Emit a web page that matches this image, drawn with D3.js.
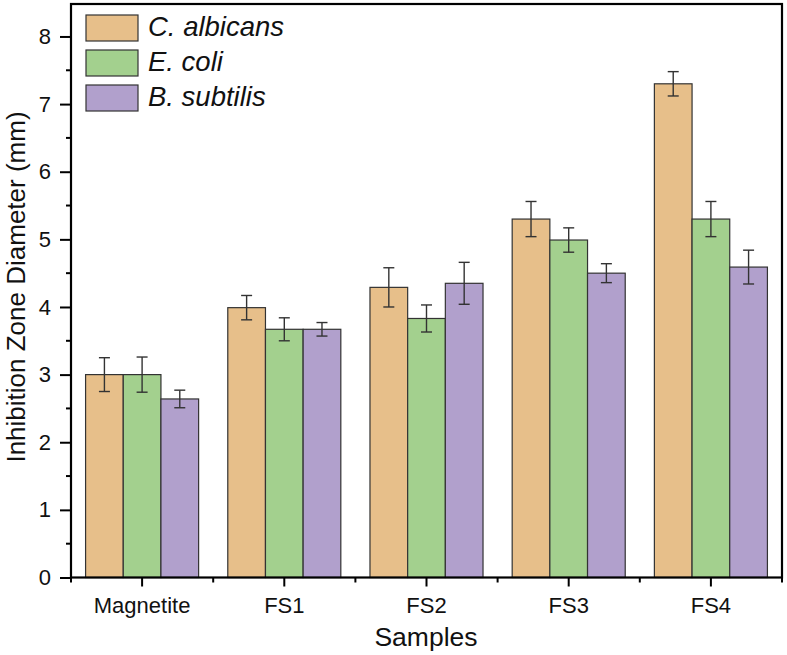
<!DOCTYPE html>
<html><head><meta charset="utf-8">
<script src="https://cdn.jsdelivr.net/npm/d3@7"></script>
<style>body{margin:0;background:#fff}svg{display:block}text{font-family:"Liberation Sans",Arial,sans-serif;fill:#111}</style>
</head><body>
<script>
const categories = ["Magnetite","FS1","FS2","FS3","FS4"];
const seriesNames = ["C. albicans","E. coli","B. subtilis"];
const albicans = [3.0, 3.99, 4.29, 5.30, 7.30];
const albicansErr = [0.25, 0.18, 0.29, 0.26, 0.18];
const ecoli = [3.0, 3.67, 3.83, 4.99, 5.30];
const ecoliErr = [0.26, 0.17, 0.20, 0.18, 0.26];
const subtilis = [2.64, 3.67, 4.35, 4.50, 4.59];
const subtilisErr = [0.13, 0.10, 0.31, 0.14, 0.25];
const colors = ["#E7BF8A","#A3D08E","#B1A0CC"];
const yTicks = [0,1,2,3,4,5,6,7,8];

const W=787,H=655;
const m={l:71,r:5,t:4,b:77.5};
const svg=d3.select("body").append("svg").attr("width",W).attr("height",H);
const x=d3.scaleBand().domain(categories).range([m.l,W-m.r]).paddingInner(0).paddingOuter(0);
const inner=d3.scaleBand().domain(seriesNames).range([0,x.bandwidth()]).paddingOuter(0.387).paddingInner(0);
const y=d3.scaleLinear().domain([0,8.48]).range([H-m.b,m.t]);

const vals=[albicans,ecoli,subtilis], errs=[albicansErr,ecoliErr,subtilisErr];
const data=[];
categories.forEach((c,i)=>seriesNames.forEach((s,j)=>data.push({c,s,j,v:vals[j][i],e:errs[j][i]})));

svg.append("g").selectAll("rect").data(data).join("rect")
 .attr("x",d=>x(d.c)+inner(d.s)).attr("width",inner.bandwidth())
 .attr("y",d=>y(d.v)).attr("height",d=>y(0)-y(d.v))
 .attr("fill",d=>colors[d.j]).attr("stroke","#333").attr("stroke-width",1.2);

const eg=svg.append("g").attr("stroke","#333").attr("stroke-width",1.4);
data.forEach(d=>{
  const cx=x(d.c)+inner(d.s)+inner.bandwidth()/2;
  eg.append("line").attr("x1",cx).attr("x2",cx).attr("y1",y(d.v+d.e)).attr("y2",y(d.v-d.e));
  [d.v+d.e,d.v-d.e].forEach(v=>eg.append("line").attr("x1",cx-5.5).attr("x2",cx+5.5).attr("y1",y(v)).attr("y2",y(v)));
});

// frame
svg.append("rect").attr("x",m.l).attr("y",m.t).attr("width",W-m.r-m.l).attr("height",H-m.b-m.t)
 .attr("fill","none").attr("stroke","#000").attr("stroke-width",2.2);

// y axis
const ya=svg.append("g").attr("transform",`translate(${m.l},0)`)
 .call(d3.axisLeft(y).tickValues(yTicks).tickSize(11).tickPadding(9).tickFormat(d3.format("d")));
ya.select(".domain").remove();
ya.selectAll(".tick line").attr("stroke","#000").attr("stroke-width",2);
ya.selectAll("text").attr("font-size",22).style("fill","#111");
const yMinor=d3.range(0.5,8.5,1);
svg.append("g").selectAll("line").data(yMinor).join("line")
 .attr("x1",m.l-5).attr("x2",m.l).attr("y1",d=>y(d)).attr("y2",d=>y(d)).attr("stroke","#000").attr("stroke-width",2);

// x axis
const xa=svg.append("g").attr("transform",`translate(0,${H-m.b})`)
 .call(d3.axisBottom(x).tickSize(9).tickPadding(11));
xa.select(".domain").remove();
xa.selectAll(".tick line").attr("stroke","#000").attr("stroke-width",2);
xa.selectAll("text").attr("font-size",22).style("fill","#111");
const xMinor=categories.map(c=>x(c)).concat([x(categories[categories.length-1])+x.bandwidth()]);
svg.append("g").selectAll("line").data(xMinor).join("line")
 .attr("x1",d=>d).attr("x2",d=>d).attr("y1",H-m.b).attr("y2",H-m.b+5).attr("stroke","#000").attr("stroke-width",2);

// axis titles
svg.append("text").attr("x",426).attr("y",646).attr("text-anchor","middle").attr("font-size",26.5).text("Samples");
svg.append("text").attr("transform",`translate(24.5,287) rotate(-90)`).attr("text-anchor","middle").attr("font-size",26).text("Inhibition Zone Diameter (mm)");

// legend
const lg=svg.append("g");
seriesNames.forEach((s,j)=>{
  const yy=15+j*35;
  lg.append("rect").attr("x",86).attr("y",yy).attr("width",52).attr("height",26).attr("fill",colors[j]).attr("stroke","#333").attr("stroke-width",1.2);
  lg.append("text").attr("x",148).attr("y",yy+21).attr("font-size",27.5).attr("font-style","italic").text(s);
});
</script>
</body></html>
